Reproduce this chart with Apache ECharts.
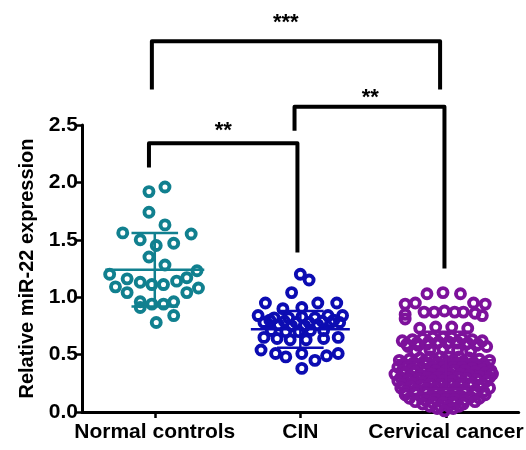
<!DOCTYPE html>
<html><head><meta charset="utf-8">
<script src="https://cdn.jsdelivr.net/npm/echarts@6/dist/echarts.min.js"></script>
<style>html,body{margin:0;padding:0;background:#fff}#c{width:526px;height:450px}</style>
</head><body><div id="c"></div>
<script>
// ---- data ----
const categories = ['Normal controls', 'CIN', 'Cervical cancer'];
const yTickStep = 0.5;
const yMax = 2.5;

// horizontal offsets (in category units) and values of each point
const normalOffsets = [-0.04,0.07,-0.04,0.07,-0.22,0.25,-0.10,0.13,0.01,-0.04,0.07,0.29,-0.31,-0.19,-0.10,-0.02,0.06,0.15,0.22,-0.27,-0.19,0.22,0.30,-0.10,-0.10,-0.02,0.06,0.13,0.13,0.01];
const normalValues  = [1.92,1.96,1.74,1.63,1.56,1.55,1.50,1.47,1.45,1.35,1.28,1.23,1.20,1.16,1.13,1.11,1.11,1.14,1.17,1.09,1.04,1.04,1.08,0.96,0.91,0.94,0.94,0.96,0.84,0.78];

const cinOffsets = [0.00,0.06,-0.06,-0.24,-0.12,0.01,0.12,0.25,-0.29,-0.18,-0.08,0.01,0.10,0.19,0.29,-0.25,-0.15,-0.06,0.03,0.12,0.21,0.27,-0.20,-0.10,-0.01,0.07,0.16,-0.25,-0.16,-0.07,0.04,0.16,0.26,-0.27,-0.17,-0.10,0.01,0.10,0.18,0.26,0.01,
  -0.21,-0.11,-0.03,0.06,0.15,0.23];
const cinValues  = [1.20,1.15,1.04,0.95,0.90,0.91,0.95,0.95,0.84,0.82,0.82,0.83,0.82,0.84,0.84,0.78,0.76,0.75,0.75,0.76,0.78,0.78,0.71,0.70,0.70,0.71,0.71,0.65,0.64,0.63,0.63,0.64,0.65,0.54,0.51,0.48,0.51,0.45,0.49,0.51,0.38,
  0.80,0.79,0.78,0.78,0.79,0.80];

const cancerOffsets = [
  -0.13,-0.02,0.10,
  -0.28,-0.21,0.19,0.27,
  -0.28,-0.15,-0.08,-0.01,0.06,0.12,0.20,0.25,
  -0.28,
  -0.18,-0.07,0.04,0.15,
  -0.30,-0.23,-0.16,-0.09,-0.02,0.04,0.11,0.18,0.25,
  -0.27,-0.20,-0.12,-0.05,0.02,0.08,0.15,0.22,
  -0.26,-0.19,-0.13,-0.06,0.01,0.08,0.14,0.21,0.28,
  -0.21,-0.11,-0.02,0.08,0.17,
  -0.32,-0.25,-0.18,-0.11,-0.04,0.02,0.09,0.16,0.23,0.30,
  -0.29,-0.22,-0.15,-0.08,-0.01,0.05,0.12,0.19,0.26,
  -0.33,-0.26,-0.19,-0.13,-0.06,0.01,0.08,0.14,0.21,0.28,
  -0.30,-0.23,-0.16,-0.09,-0.02,0.05,0.11,0.18,0.25,0.31,
  -0.35,-0.28,-0.21,-0.14,-0.07,0.00,0.06,0.13,0.20,0.27,0.32,
  -0.31,-0.24,-0.17,-0.10,-0.03,0.03,0.10,0.16,0.23,0.30,
  -0.33,-0.26,-0.19,-0.13,-0.06,0.01,0.08,0.14,0.21,0.28,
  -0.30,-0.23,-0.16,-0.09,-0.02,0.04,0.11,0.18,0.25,
  -0.31,-0.24,-0.17,-0.11,-0.04,0.03,0.10,0.17,0.23,0.30,
  -0.28,-0.21,-0.14,-0.07,0.00,0.07,0.13,0.20,0.26,
  -0.28,-0.21,-0.14,-0.07,0.00,0.06,0.13,0.20,0.27,
  -0.25,-0.17,-0.10,-0.03,0.03,0.10,0.17,0.23,
  -0.21,-0.14,-0.07,0.00,0.06,0.13,0.20,
  -0.16,-0.09,-0.02,0.05,0.12,
  -0.11,-0.04,0.02,0.09,
  -0.06,0.05,
  -0.01];
const cancerValues = [
  1.03,1.04,1.03,
  0.94,0.95,0.95,0.94,
  0.85,0.87,0.87,0.88,0.87,0.87,0.86,0.84,
  0.81,
  0.73,0.74,0.74,0.73,
  0.62,0.63,0.64,0.65,0.65,0.65,0.64,0.63,0.62,
  0.59,0.60,0.61,0.61,0.61,0.61,0.60,0.59,
  0.57,0.58,0.59,0.60,0.60,0.60,0.59,0.58,0.57,
  0.53,0.54,0.55,0.54,0.53,
  0.45,0.46,0.47,0.48,0.48,0.48,0.48,0.47,0.46,0.45,
  0.42,0.43,0.44,0.45,0.45,0.45,0.44,0.43,0.42,
  0.39,0.40,0.41,0.42,0.42,0.42,0.42,0.41,0.40,0.39,
  0.36,0.37,0.38,0.39,0.39,0.39,0.39,0.38,0.37,0.36,
  0.33,0.34,0.35,0.36,0.36,0.36,0.36,0.36,0.35,0.34,0.33,
  0.30,0.31,0.32,0.33,0.33,0.33,0.33,0.32,0.31,0.30,
  0.27,0.28,0.29,0.30,0.30,0.30,0.30,0.29,0.28,0.27,
  0.24,0.25,0.26,0.27,0.27,0.27,0.26,0.25,0.24,
  0.21,0.22,0.23,0.24,0.24,0.24,0.24,0.23,0.22,0.21,
  0.18,0.19,0.20,0.21,0.21,0.21,0.20,0.19,0.18,
  0.15,0.16,0.17,0.17,0.17,0.17,0.17,0.16,0.15,
  0.12,0.13,0.14,0.14,0.14,0.14,0.13,0.12,
  0.09,0.10,0.11,0.11,0.11,0.10,0.09,
  0.07,0.08,0.08,0.08,0.07,
  0.05,0.05,0.05,0.05,
  0.03,0.03,
  0.01];

const groupMeans = [1.24, 0.72, 0.45];
const groupSDs   = [0.32, 0.16, 0.25];
const groupColors = ['#11808f', '#0c0cb2', '#7d129b'];

// significance brackets
const bracketFrom  = [-0.04, 0.96, -0.02];
const bracketTo    = [0.98, 1.99, 1.96];
const bracketTop   = [2.34, 2.66, 3.23];
const bracketLeftEnd  = [2.13, 2.45, 2.81];
const bracketRightEnd = [1.39, 1.25, 2.81];
const bracketLabels = ['**', '**', '***'];
const bracketLabelX = [0.47, 1.48, 0.90];
const bracketLabelY = [2.45, 2.74, 3.39];

// ---- chart ----
const chart = echarts.init(document.getElementById('c'), null, {renderer: 'canvas'});
const FONT = '"Liberation Sans", Arial, sans-serif';

function groupSeries(idx, offs, vals) {
  return {
    type: 'scatter',
    xAxisIndex: 1,
    yAxisIndex: 0,
    symbol: 'circle',
    symbolSize: 9,
    itemStyle: {color: 'rgba(0,0,0,0)', borderColor: groupColors[idx], borderWidth: 3.9, opacity: 1},
    emphasis: {disabled: true},
    data: vals.map((v, i) => [idx + offs[i], v]),
    z: 2
  };
}

const errorSeries = {
  type: 'custom',
  xAxisIndex: 1,
  yAxisIndex: 0,
  z: 5,
  data: groupMeans.map((m, i) => [i, m]),
  renderItem: function (params, api) {
    const i = params.dataIndex;
    const m = groupMeans[i], s = groupSDs[i];
    const style = {stroke: groupColors[i], lineWidth: 2.5, fill: null};
    const p = (x, y) => api.coord([x, y]);
    const seg = (a, b) => ({type: 'line', shape: {x1: a[0], y1: a[1], x2: b[0], y2: b[1]}, style: style});
    return {type: 'group', children: [
      seg(p(i - 0.34, m), p(i + 0.34, m)),
      seg(p(i, m - s), p(i, m + s)),
      seg(p(i - 0.16, m + s), p(i + 0.16, m + s)),
      seg(p(i - 0.16, m - s), p(i + 0.16, m - s))
    ]};
  }
};

const bracketSeries = {
  type: 'custom',
  xAxisIndex: 1,
  yAxisIndex: 0,
  z: 6,
  clip: false,
  data: bracketFrom.map((f, i) => [f, bracketTop[i]]),
  renderItem: function (params, api) {
    const i = params.dataIndex;
    const a = api.coord([bracketFrom[i], bracketLeftEnd[i]]);
    const b = api.coord([bracketFrom[i], bracketTop[i]]);
    const c = api.coord([bracketTo[i], bracketTop[i]]);
    const d = api.coord([bracketTo[i], bracketRightEnd[i]]);
    const t = api.coord([bracketLabelX[i], bracketLabelY[i]]);
    return {type: 'group', children: [
      {type: 'polyline', shape: {points: [a, b, c, d]},
       style: {stroke: '#000', lineWidth: 4, fill: null, lineJoin: 'round'}},
      {type: 'text', x: t[0], y: t[1],
       style: {text: bracketLabels[i], fill: '#000', font: 'bold 22px ' + FONT, align: 'center', verticalAlign: 'middle'}}
    ]};
  }
};

chart.setOption({
  animation: false,
  backgroundColor: '#fff',
  grid: {left: 82, right: 4, top: 125, bottom: 38, containLabel: false},
  xAxis: [
    {
      type: 'category',
      data: categories,
      boundaryGap: true,
      axisLine: {show: true, onZero: false, lineStyle: {color: '#000', width: 3}},
      axisTick: {show: true, alignWithLabel: true, length: 6, lineStyle: {color: '#000', width: 2.5}},
      axisLabel: {color: '#000', fontSize: 21, fontWeight: 'bold', fontFamily: FONT, margin: 10, interval: 0},
      splitLine: {show: false}
    },
    {
      type: 'value',
      min: -0.5, max: 2.5,
      show: false,
      axisLine: {onZero: false},
      splitLine: {show: false}
    }
  ],
  yAxis: {
    type: 'value',
    min: 0, max: yMax, interval: yTickStep,
    name: 'Relative miR-22 expression',
    nameLocation: 'middle',
    nameGap: 44,
    nameTextStyle: {color: '#000', fontSize: 20, fontWeight: 'bold', fontFamily: FONT},
    axisLine: {show: true, onZero: false, lineStyle: {color: '#000', width: 3}},
    axisTick: {show: true, length: 6, lineStyle: {color: '#000', width: 2.5}},
    axisLabel: {color: '#000', fontSize: 21, fontWeight: 'bold', fontFamily: FONT, margin: 4,
      formatter: v => v.toFixed(1)},
    splitLine: {show: false}
  },
  series: [
    groupSeries(0, normalOffsets, normalValues),
    groupSeries(1, cinOffsets, cinValues),
    groupSeries(2, cancerOffsets, cancerValues),
    errorSeries,
    bracketSeries
  ]
});
</script>
</body></html>
